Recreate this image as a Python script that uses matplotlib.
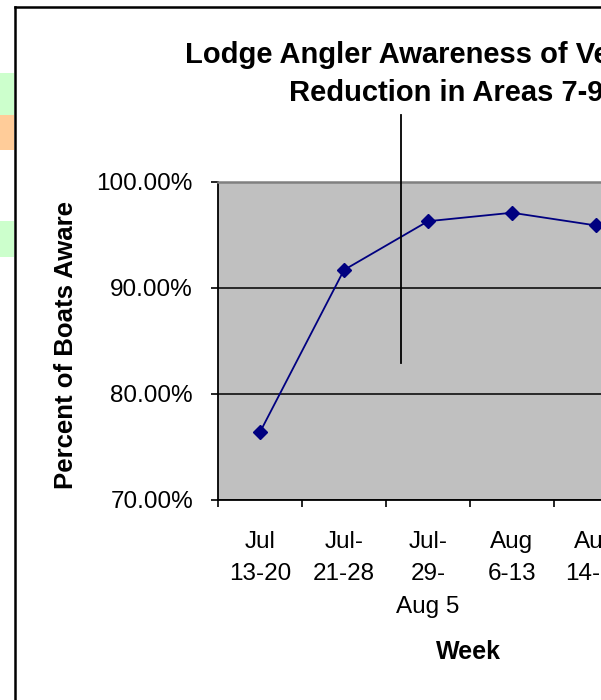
import numpy as np
import matplotlib
matplotlib.use('Agg')
import matplotlib.pyplot as plt
from matplotlib.patches import Rectangle
from matplotlib.lines import Line2D
from matplotlib.ticker import FixedLocator, FuncFormatter

plt.rcParams['font.family'] = ['Liberation Sans', 'DejaVu Sans']

# data
weeks = ['Jul\n13-20', 'Jul-\n21-28', 'Jul-\n29-\nAug 5', 'Aug\n6-13', 'Aug\n14-21']
aware = [76.4, 91.7, 96.3, 97.1, 95.9]
y_ticks = [70, 80, 90, 100]

W, H = 601, 700
fig = plt.figure(figsize=(W / 100, H / 100), dpi=100)
fig.patch.set_facecolor('white')

def px(x, y):
    # pixel coords (top-left origin) -> figure fraction
    return x / W, 1 - y / H

# stray colour cells on the left edge of the sheet
for y0, y1, c in [(73, 115, '#CCFFCC'), (115, 150, '#FFCC99'), (221, 257, '#CCFFCC')]:
    fig.add_artist(Rectangle((0, 1 - y1 / H), 14 / W, (y1 - y0) / H,
                             transform=fig.transFigure, color=c, lw=0))

# chart area border (only left and top visible)
fig.add_artist(Line2D([15 / W, 15 / W], [0, 1 - 7 / H], transform=fig.transFigure,
                      color='black', lw=1.8))
fig.add_artist(Line2D([15 / W, 1], [1 - 7 / H, 1 - 7 / H], transform=fig.transFigure,
                      color='black', lw=1.8))

# plot area: left 218px, 84px per category, 100% at y=182, 70% at y=500
left, top, bottom = 218, 182, 500
ncat = len(weeks)
ax = fig.add_axes([left / W, 1 - bottom / H, 84 * ncat / W, (bottom - top) / H])
ax.set_facecolor('#C0C0C0')
x = np.arange(ncat)
ax.plot(x, aware, color='#000080', lw=1.3, marker='D', ms=7.5,
        markerfacecolor='#000080', markeredgecolor='#000080', zorder=3)
ax.set_xlim(-0.5, ncat - 0.5)
ax.set_ylim(70, 100)

ax.set_yticks(y_ticks)
ax.yaxis.set_major_formatter(FuncFormatter(lambda v, p: f'{v:.2f}%'))
ax.grid(axis='y', color='black', lw=1.1)
ax.set_axisbelow(True)

ax.xaxis.set_major_locator(FixedLocator(np.arange(ncat + 1) - 0.5))
ax.xaxis.set_major_formatter(FuncFormatter(lambda v, p: ''))
ax.xaxis.set_minor_locator(FixedLocator(x))
ax.set_xticklabels(weeks, minor=True)
ax.tick_params(axis='x', which='minor', length=0, pad=22, labelsize=17.5)
ax.tick_params(axis='x', which='major', length=5, width=1.2, direction='out')
ax.tick_params(axis='y', length=5, width=1.2, direction='out', pad=13, labelsize=17.5)
for lab in ax.get_xticklabels(minor=True):
    lab.set_linespacing(1.62)

for s in ['left', 'bottom']:
    ax.spines[s].set_color('black')
    ax.spines[s].set_linewidth(1.3)
ax.spines['top'].set_color('#808080')
ax.spines['top'].set_linewidth(1.8)
ax.spines['right'].set_color('#808080')

# title, partly cut off on the right like the original
fig.text(*px(185, 63), 'Lodge Angler Awareness of Vessel Limit', fontsize=21,
         fontweight='bold', ha='left', va='baseline')
fig.text(*px(289, 101), 'Reduction in Areas 7-9', fontsize=21,
         fontweight='bold', ha='left', va='baseline')

fig.text(*px(66, 345), 'Percent of Boats Aware', fontsize=18.5, fontweight='bold',
         rotation=90, ha='center', va='center')
fig.text(*px(468, 652), 'Week', fontsize=18, fontweight='bold', ha='center', va='center')

# stray drawn line on the chart
fig.add_artist(Line2D([401 / W, 401 / W], [1 - 363 / H, 1 - 115 / H],
                      transform=fig.transFigure, color='black', lw=1.3))

fig.savefig('out.png', dpi=100)
